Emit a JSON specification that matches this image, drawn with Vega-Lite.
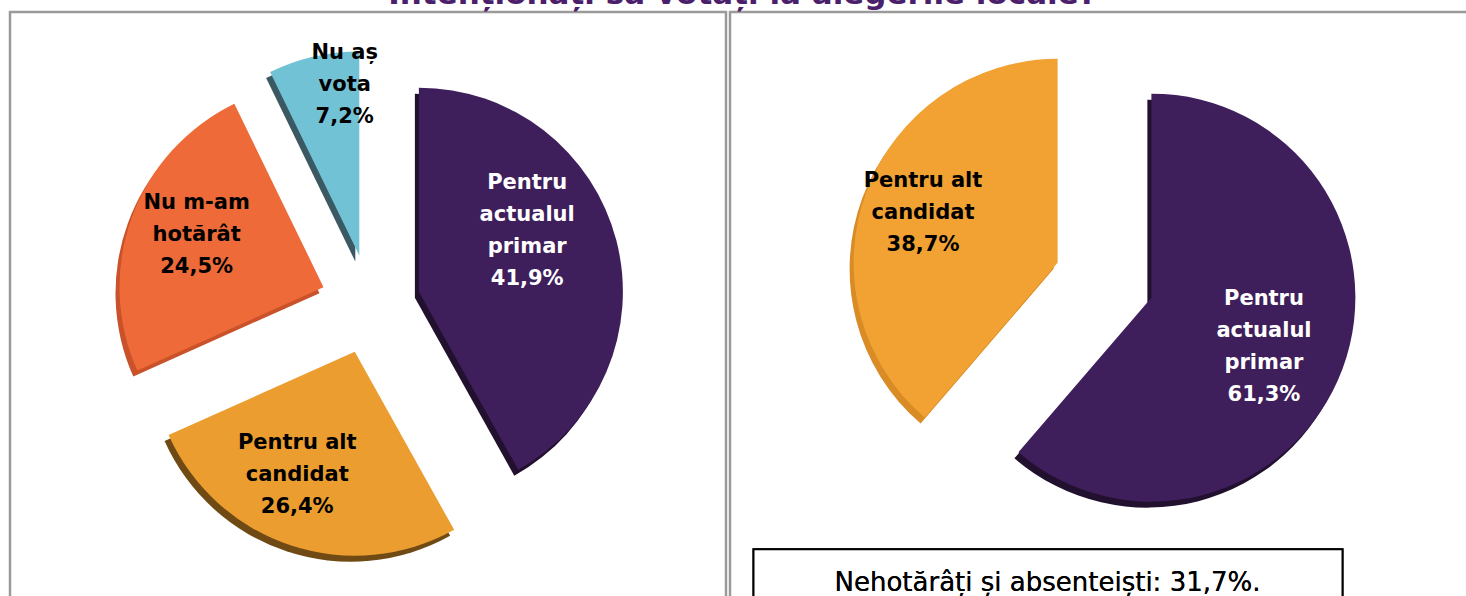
{
  "$schema": "https://vega.github.io/schema/vega-lite/v6.json",
  "padding": {"left": 8, "top": -22, "right": -8, "bottom": -6},
  "background": "white",
  "title": {"text": "Intenționați să votați la alegerile locale?", "font": "DejaVu Sans", "fontSize": 31, "fontWeight": "bold", "color": "#4B1F6B", "anchor": "middle", "offset": 0},
  "spacing": 0,
  "resolve": {"scale": {"fill": "independent", "color": "independent"}},
  "config": {"view": {"stroke": "#9a9a9a", "strokeWidth": 2.5}, "font": "DejaVu Sans"},
  "datasets": {
    "poll": [
      {"chart": "left", "category": "Pentru actualul primar", "value": 41.9, "order": 1, "label": "Pentru\nactualul\nprimar\n41,9%"},
      {"chart": "left", "category": "Pentru alt candidat", "value": 26.4, "order": 2, "label": "Pentru alt\ncandidat\n26,4%"},
      {"chart": "left", "category": "Nu m-am hotărât", "value": 24.5, "order": 3, "label": "Nu m-am\nhotărât\n24,5%"},
      {"chart": "left", "category": "Nu aș vota", "value": 7.2, "order": 4, "label": "Nu aș\nvota\n7,2%"},
      {"chart": "right", "category": "Pentru actualul primar", "value": 61.3, "order": 1, "label": "Pentru\nactualul\nprimar\n61,3%"},
      {"chart": "right", "category": "Pentru alt candidat", "value": 38.7, "order": 2, "label": "Pentru alt\ncandidat\n38,7%"}
    ]
  },
  "data": {"name": "poll"},
  "hconcat": [
    {
      "width": 716,
      "height": 590,
      "transform": [
        {"filter": "datum.chart === 'left'"},
        {"stack": "value", "groupby": ["chart"], "sort": [{"field": "order"}], "as": ["v0", "v1"]},
        {"joinaggregate": [{"op": "sum", "field": "value", "as": "total"}], "groupby": ["chart"]},
        {"calculate": "2*PI*datum.v0/datum.total", "as": "a0"},
        {"calculate": "2*PI*datum.v1/datum.total", "as": "a1"},
        {"calculate": "(datum.a0+datum.a1)/2", "as": "mid"},
        {"calculate": "50*sin(datum.mid)", "as": "dx"},
        {"calculate": "50*cos(datum.mid)", "as": "dy"}
      ],
      "encoding": {
        "x": {"field": "dx", "type": "quantitative", "scale": {"domain": [-360.5, 355.5], "nice": false, "zero": false}, "axis": null},
        "y": {"field": "dy", "type": "quantitative", "scale": {"domain": [-297.75, 292.25], "nice": false, "zero": false}, "axis": null}
      },
      "layer": [
        {
          "mark": {"type": "arc", "outerRadius": 204, "xOffset": -4, "yOffset": 6},
          "encoding": {
            "theta": {"field": "a0", "type": "quantitative", "scale": null},
            "theta2": {"field": "a1"},
            "fill": {"field": "category", "type": "nominal", "legend": null,
              "scale": {"domain": ["Pentru actualul primar", "Pentru alt candidat", "Nu m-am hotărât", "Nu aș vota"], "range": ["#22102F", "#6F4A14", "#C9522A", "#3A5962"]}}
          }
        },
        {
          "mark": {"type": "arc", "outerRadius": 204},
          "encoding": {
            "theta": {"field": "a0", "type": "quantitative", "scale": null},
            "theta2": {"field": "a1"},
            "color": {"field": "category", "type": "nominal", "legend": null,
              "scale": {"domain": ["Pentru actualul primar", "Pentru alt candidat", "Nu m-am hotărât", "Nu aș vota"], "range": ["#3F1F5B", "#EB9D2F", "#EE6A38", "#72C2D5"]}}
          }
        },
        {
          "transform": [{"filter": "datum.order === 2"}],
          "mark": {"type": "text", "radius": 135, "dx": -15, "dy": -37, "font": "DejaVu Sans", "fontSize": 21, "fontWeight": "bold", "lineHeight": 32, "lineBreak": "\n", "align": "center", "baseline": "middle", "fill": "black"},
          "encoding": {
            "theta": {"field": "mid", "type": "quantitative", "scale": null},
            "text": {"field": "label", "type": "nominal"}
          }
        },
        {
          "transform": [{"filter": "datum.order === 3"}],
          "mark": {"type": "text", "radius": 135, "dy": -38, "font": "DejaVu Sans", "fontSize": 21, "fontWeight": "bold", "lineHeight": 32, "lineBreak": "\n", "align": "center", "baseline": "middle", "fill": "black"},
          "encoding": {
            "theta": {"field": "mid", "type": "quantitative", "scale": null},
            "text": {"field": "label", "type": "nominal"}
          }
        },
        {
          "transform": [{"filter": "datum.order === 1"}],
          "mark": {"type": "text", "radius": 115, "dy": -80, "dx": -3, "font": "DejaVu Sans", "fontSize": 21, "fontWeight": "bold", "lineHeight": 32, "lineBreak": "\n", "align": "center", "baseline": "middle", "fill": "white"},
          "encoding": {
            "theta": {"field": "mid", "type": "quantitative", "scale": null},
            "text": {"field": "label", "type": "nominal"}
          }
        },
        {
          "transform": [{"filter": "datum.order === 4"}],
          "mark": {"type": "text", "radius": 172, "dx": 24, "dy": -35, "font": "DejaVu Sans", "fontSize": 21, "fontWeight": "bold", "lineHeight": 32, "lineBreak": "\n", "align": "center", "baseline": "middle", "fill": "black"},
          "encoding": {
            "theta": {"field": "mid", "type": "quantitative", "scale": null},
            "text": {"field": "label", "type": "nominal"}
          }
        }
      ]
    },
    {
      "width": 745,
      "height": 590,
      "transform": [
        {"filter": "datum.chart === 'right'"},
        {"stack": "value", "groupby": ["chart"], "sort": [{"field": "order"}], "as": ["v0", "v1"]},
        {"joinaggregate": [{"op": "sum", "field": "value", "as": "total"}], "groupby": ["chart"]},
        {"calculate": "2*PI*datum.v0/datum.total", "as": "a0"},
        {"calculate": "2*PI*datum.v1/datum.total", "as": "a1"},
        {"calculate": "(datum.a0+datum.a1)/2", "as": "mid"},
        {"calculate": "50*sin(datum.mid)", "as": "dx"},
        {"calculate": "50*cos(datum.mid)", "as": "dy"}
      ],
      "encoding": {
        "x": {"field": "dx", "type": "quantitative", "scale": {"domain": [-374.5, 370.5], "nice": false, "zero": false}, "axis": null},
        "y": {"field": "dy", "type": "quantitative", "scale": {"domain": [-321.75, 268.25], "nice": false, "zero": false}, "axis": null}
      },
      "layer": [
        {
          "mark": {"type": "arc", "outerRadius": 204, "xOffset": -4, "yOffset": 6},
          "encoding": {
            "theta": {"field": "a0", "type": "quantitative", "scale": null},
            "theta2": {"field": "a1"},
            "fill": {"field": "category", "type": "nominal", "legend": null,
              "scale": {"domain": ["Pentru actualul primar", "Pentru alt candidat"], "range": ["#22102F", "#D98C25"]}}
          }
        },
        {
          "mark": {"type": "arc", "outerRadius": 204},
          "encoding": {
            "theta": {"field": "a0", "type": "quantitative", "scale": null},
            "theta2": {"field": "a1"},
            "color": {"field": "category", "type": "nominal", "legend": null,
              "scale": {"domain": ["Pentru actualul primar", "Pentru alt candidat"], "range": ["#3F1F5B", "#F1A233"]}}
          }
        },
        {
          "transform": [{"filter": "datum.order === 1"}],
          "mark": {"type": "text", "radius": 135, "dx": -14, "dy": -46, "font": "DejaVu Sans", "fontSize": 21, "fontWeight": "bold", "lineHeight": 32, "lineBreak": "\n", "align": "center", "baseline": "middle", "fill": "white"},
          "encoding": {
            "theta": {"field": "mid", "type": "quantitative", "scale": null},
            "text": {"field": "label", "type": "nominal"}
          }
        },
        {
          "transform": [{"filter": "datum.order === 2"}],
          "mark": {"type": "text", "radius": 135, "dx": -8, "dy": -35, "font": "DejaVu Sans", "fontSize": 21, "fontWeight": "bold", "lineHeight": 32, "lineBreak": "\n", "align": "center", "baseline": "middle", "fill": "black"},
          "encoding": {
            "theta": {"field": "mid", "type": "quantitative", "scale": null},
            "text": {"field": "label", "type": "nominal"}
          }
        },
        {
          "mark": {"type": "rect", "fill": "white", "stroke": "black", "strokeWidth": 2},
          "encoding": {
            "x": {"datum": -351, "type": "quantitative"},
            "x2": {"datum": 238},
            "y": {"datum": -269, "type": "quantitative"},
            "y2": {"datum": -321.75}
          }
        },
        {
          "mark": {"type": "text", "font": "DejaVu Sans", "fontSize": 26, "align": "center", "baseline": "alphabetic", "fill": "black"},
          "encoding": {
            "x": {"datum": -57, "type": "quantitative"},
            "y": {"datum": -311, "type": "quantitative"},
            "text": {"value": "Nehotărâți și absenteiști: 31,7%."}
          }
        }
      ]
    }
  ]
}
